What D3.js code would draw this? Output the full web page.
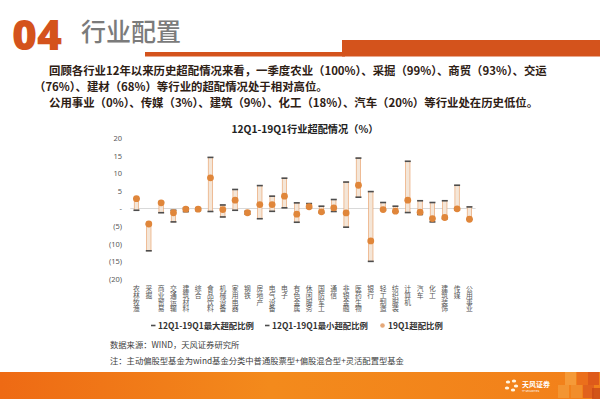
<!DOCTYPE html>
<html>
<head>
<meta charset="utf-8">
<script src="https://cdn.jsdelivr.net/npm/d3@7"></script>
<style>
  body { margin: 0; background: #fff; }
  text { font-family: "Noto Sans CJK SC", "Noto Sans", sans-serif; }
</style>
</head>
<body>
<div id="chart"></div>
<script>
// industries (SW level-1)
const categories = ['农林牧渔', '采掘', '商业贸易', '交通运输', '建筑材料', '综合', '食品饮料', '机械设备',
    '家用电器', '钢铁', '房地产', '电气设备', '电子', '有色金属', '休闲服务', '国防军工', '通信',
    '非银金融', '医药生物', '银行', '轻工制造', '纺织服装', '计算机', '汽车', '化工', '建筑装饰', '传媒', '公用事业'];
// 12Q1-19Q1 max / min overweight, 19Q1 overweight (%)
const maxValues = [2.8, -4.4, 1.8, -0.5, 0.2, 0.1, 14.5, 1.0, 5.4, -0.8, 6.5, 3.5, 8.6, 1.6,
    1.4, 0.65, 2.55, 7.5, 14.3, 4.8, 1.7, 0.65, 13.4, 2.2, 1.7, 2.2, 6.6, 0.45];
const minValues = [-0.5, -12.0, -1.2, -3.8, -0.9, -0.6, -0.85, -2.4, -0.5, -1.6, -2.9, -0.8, 0.2, -3.9,
    0.2, -1.2, -0.85, -5.3, 3.2, -15.0, -0.5, -0.9, -1.15, -1.7, -3.8, -2.9, -0.4, -3.05];
const currentValues = [2.8, -4.4, 1.6, -1.2, -0.2, -0.2, 8.7, -0.3, 2.35, -1.2, 1.1, 1.1, 3.5, -1.6,
    0.5, -0.95, 0.2, -1.25, 6.6, -9.2, -0.3, -0.75, 2.35, -1.05, -2.85, -2.55, -0.1, -3.05];
const yTicks = [-20, -15, -10, -5, 0, 5, 10, 15, 20];

const legendLabels = ['12Q1-19Q1最大超配比例', '12Q1-19Q1最小超配比例', '19Q1超配比例'];
const bodyLines = [
    '回顾各行业12年以来历史超配情况来看，一季度农业（100%）、采掘（99%）、商贸（93%）、交运',
    '（76%）、建材（68%）等行业的超配情况处于相对高位。',
    '公用事业（0%）、传媒（3%）、建筑（9%）、化工（18%）、汽车（20%）等行业处在历史低位。'
];

const width = 600, height = 399;
const orange = '#e0863a';

const svg = d3.select('#chart')
    .append('svg')
    .attr('width', width)
    .attr('height', height);

const defs = svg.append('defs');
const grad = defs.append('linearGradient').attr('id', 'band');
grad.append('stop').attr('offset', '0%').attr('stop-color', '#ee6a14');
grad.append('stop').attr('offset', '45%').attr('stop-color', '#f38a1c');
grad.append('stop').attr('offset', '100%').attr('stop-color', '#f2801a');

// header
svg.append('text')
    .attr('x', 12).attr('y', 50)
    .attr('textLength', 50)
    .attr('lengthAdjust', 'spacingAndGlyphs')
    .style('font-family', '"Noto Sans", sans-serif')
    .style('font-weight', 900)
    .style('font-size', '42px')
    .style('fill', '#d4531c')
    .text('04');
svg.append('text')
    .attr('x', 81).attr('y', 41)
    .style('font-size', '25px')
    .style('font-weight', 500)
    .style('fill', '#7b7b7b')
    .text('行业配置');
svg.append('rect').attr('x', 145).attr('y', 52).attr('width', 200).attr('height', 4.5).style('fill', '#d4531c');
svg.append('rect').attr('x', 342).attr('y', 40).attr('width', 258).attr('height', 16.5).style('fill', '#d4531c');

// paragraph
const bodyX = [49, 34, 49];
svg.selectAll('.body-line')
    .data(bodyLines)
    .enter()
    .append('text')
    .attr('class', 'body-line')
    .attr('x', (d, i) => bodyX[i])
    .attr('y', (d, i) => 75 + i * 16)
    .style('font-size', '11.4px')
    .style('font-weight', 700)
    .style('fill', '#2e2014')
    .text(d => d);

// chart title
svg.append('text')
    .attr('x', 305).attr('y', 132.5)
    .attr('text-anchor', 'middle')
    .style('font-size', '10.2px')
    .style('font-weight', 700)
    .style('fill', '#222')
    .text('12Q1-19Q1行业超配情况（%）');

const x = d3.scaleBand()
    .domain(categories)
    .range([130.3, 475.6]);
const y = d3.scaleLinear()
    .domain([-20, 20])
    .range([279, 138]);

const g = svg.append('g');

const yAxis = d3.axisLeft(y)
    .tickValues(yTicks)
    .tickSize(0)
    .tickPadding(0)
    .tickFormat(v => v === 0 ? '-' : (v < 0 ? `(${-v})` : v));
g.append('g')
    .attr('class', 'y-axis')
    .attr('transform', 'translate(122,0)')
    .call(yAxis)
    .call(a => a.select('.domain').remove())
    .selectAll('text')
    .style('font-family', '"Noto Sans", sans-serif')
    .style('font-size', '7.5px')
    .style('fill', '#595959');

g.append('line')
    .attr('x1', x.range()[0]).attr('x2', x.range()[1])
    .attr('y1', y(0)).attr('y2', y(0))
    .style('stroke', '#d9d9d9')
    .style('stroke-width', 1);

const rows = categories.map((c, i) => ({
    cat: c, max: maxValues[i], min: minValues[i], cur: currentValues[i]
}));
const cx = d => x(d.cat) + x.bandwidth() / 2;

g.selectAll('.range')
    .data(rows)
    .enter()
    .append('rect')
    .attr('x', d => cx(d) - 2.2)
    .attr('y', d => y(d.max))
    .attr('width', 4.4)
    .attr('height', d => Math.max(0.5, y(d.min) - y(d.max)))
    .style('fill', '#f4e6d8')
    .style('stroke', '#eaa673')
    .style('stroke-width', 0.7);

g.selectAll('.cap-max')
    .data(rows)
    .enter()
    .append('line')
    .attr('x1', d => cx(d) - 3)
    .attr('x2', d => cx(d) + 3)
    .attr('y1', d => y(d.max))
    .attr('y2', d => y(d.max))
    .style('stroke', '#4d4d4d')
    .style('stroke-width', 1.6);
g.selectAll('.cap-min')
    .data(rows)
    .enter()
    .append('line')
    .attr('x1', d => cx(d) - 3)
    .attr('x2', d => cx(d) + 3)
    .attr('y1', d => y(d.min))
    .attr('y2', d => y(d.min))
    .style('stroke', '#4d4d4d')
    .style('stroke-width', 1.6);

g.selectAll('.dot')
    .data(rows)
    .enter()
    .append('circle')
    .attr('cx', cx)
    .attr('cy', d => y(d.cur))
    .attr('r', 3.4)
    .style('fill', orange);

// vertical category labels
g.selectAll('.cat')
    .data(categories)
    .enter()
    .append('text')
    .attr('class', 'cat')
    .attr('x', d => x(d) + x.bandwidth() / 2)
    .attr('y', 285)
    .style('writing-mode', 'vertical-rl')
    .style('font-size', '6.8px')
    .style('fill', '#555')
    .text(d => d);

// legend
const legendX = [151, 265, 381];
const legend = svg.append('g');
legendLabels.forEach((label, i) => {
    if (i < 2) {
        legend.append('line')
            .attr('x1', legendX[i]).attr('x2', legendX[i] + 4.5)
            .attr('y1', 325.5).attr('y2', 325.5)
            .style('stroke', '#4d4d4d')
            .style('stroke-width', 1.6);
    } else {
        legend.append('circle')
            .attr('cx', legendX[i] + 1.5).attr('cy', 325.5).attr('r', 2.3)
            .style('fill', '#e5a878');
    }
    legend.append('text')
        .attr('x', legendX[i] + 7)
        .attr('y', 328.5)
        .style('font-size', '8.4px')
        .style('font-weight', 700)
        .style('fill', '#333')
        .text(label);
});

// source notes
svg.append('text')
    .attr('x', 110).attr('y', 347.5)
    .style('font-size', '8.3px')
    .style('fill', '#404040')
    .text('数据来源：WIND，天风证券研究所');
svg.append('text')
    .attr('x', 110).attr('y', 364)
    .style('font-size', '8.3px')
    .style('fill', '#404040')
    .text('注：主动偏股型基金为wind基金分类中普通股票型+偏股混合型+灵活配置型基金');

// footer band
svg.append('rect').attr('x', 0).attr('y', 372).attr('width', 600).attr('height', 27).style('fill', 'url(#band)');
const tiles = [[565, 372, '#f5a040'], [577, 372, '#e86a1c'], [588, 372, '#d8501a'], [571, 385, '#f09030'],
    [583, 385, '#dc5a1e'], [558, 385, '#f29a38'], [592, 388, '#c94818']];
svg.selectAll('.tile')
    .data(tiles)
    .enter()
    .append('rect')
    .attr('x', d => d[0]).attr('y', d => d[1])
    .attr('width', 11).attr('height', 13)
    .style('fill', d => d[2])
    .style('opacity', 0.8);

// logo
const logo = svg.append('g').attr('transform', 'translate(512,386)');
[[-4, -4], [2, -5], [-5, 2], [1, 4], [4, 0]].forEach(p => {
    logo.append('ellipse')
        .attr('cx', p[0]).attr('cy', p[1]).attr('rx', 2.2).attr('ry', 1.6)
        .style('fill', '#fff5e0');
});
logo.append('text')
    .attr('x', 10).attr('y', 1)
    .style('font-size', '7px')
    .style('font-weight', 700)
    .style('fill', '#fff')
    .text('天风证券');
logo.append('text')
    .attr('x', 10).attr('y', 6)
    .style('font-size', '2.5px')
    .style('fill', '#fff')
    .text('TF SECURITIES');
</script>
</body>
</html>
